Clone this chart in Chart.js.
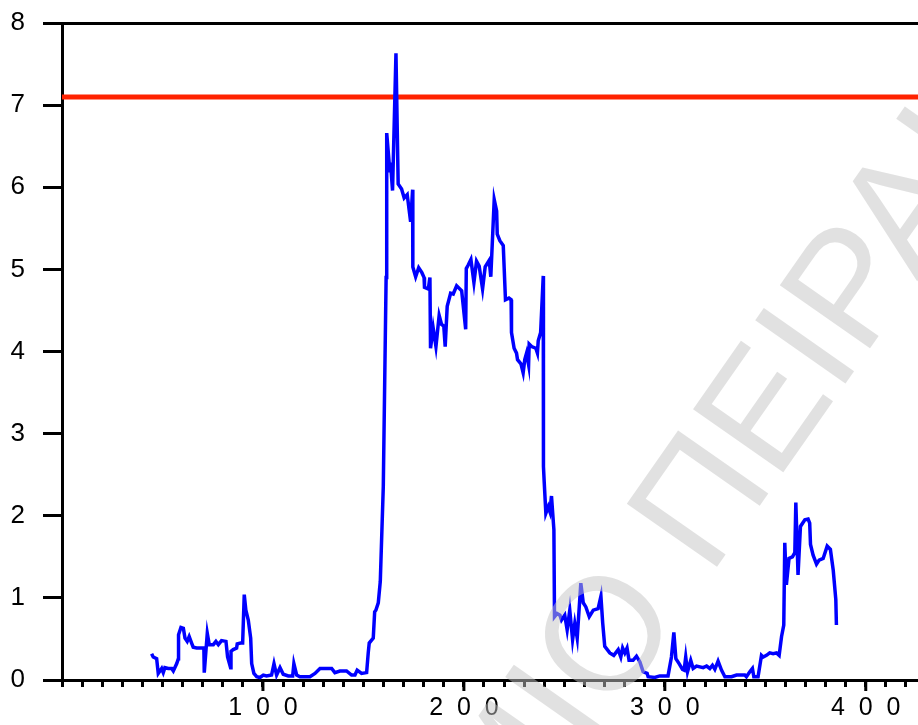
<!DOCTYPE html>
<html>
<head>
<meta charset="utf-8">
<script src="https://cdn.jsdelivr.net/npm/chart.js@4"></script>
<style>
  html, body { margin: 0; padding: 0; background: #fff; }
  canvas { display: block; }
</style>
</head>
<body>
<canvas id="chart" width="918" height="725"></canvas>
<script>
const xValues = [
  44.6, 45.4, 47.1, 47.9, 49.6, 50.4, 51.2, 52.9, 54.6, 55.4, 57.1, 57.9, 58.0, 59.2, 60.4, 61.2, 62.3, 63.3, 64.5, 65.3,
  67.0, 70.6, 70.8, 72.3, 73.3, 75.3, 76.6, 77.8, 79.4, 81.6, 82.4, 83.9, 84.1, 85.2, 86.9, 87.2, 88.9, 89.9, 90.7, 91.5,
  92.7, 93.9, 94.4, 95.5, 96.9, 98.5, 100.2, 101.8, 104.3, 105.5, 106.8, 108.5, 110.1, 112.6, 114.8, 115.4, 116.8, 118.4, 123.4, 125.9,
  128.4, 134.2, 135.8, 138.3, 141.6, 144.1, 145.8, 146.9, 149.1, 151.6, 152.4, 152.9, 154.9, 155.6, 156.2, 157.4, 158.4, 159.9, 161.3, 161.6,
  163.2, 163.5, 164.5, 166.2, 167.3, 169.0, 170.3, 171.8, 173.5, 174.5, 174.6, 176.0, 177.5, 179.1, 180.2, 180.4, 182.3, 183.1, 183.4, 184.7,
  186.1, 187.7, 188.9, 190.0, 190.7, 191.7, 193.4, 194.7, 196.4, 198.9, 200.9, 201.2, 202.1, 203.5, 205.0, 206.3, 207.6, 209.3, 210.6, 212.6,
  213.4, 215.1, 216.3, 216.6, 217.9, 219.6, 220.7, 222.4, 223.5, 223.7, 225.0, 226.2, 226.7, 228.4, 229.5, 230.3, 231.2, 232.2, 232.5, 233.7,
  235.8, 236.6, 237.0, 238.2, 239.5, 239.6, 240.0, 240.8, 242.0, 242.8, 243.6, 244.8, 245.1, 246.4, 247.8, 248.6, 250.2, 251.4, 252.7, 254.1,
  255.2, 256.4, 258.2, 259.4, 260.7, 262.4, 264.4, 266.8, 268.2, 269.1, 270.1, 272.6, 274.6, 276.8, 278.1, 279.0, 280.1, 281.2, 282.2, 284.2,
  285.9, 287.6, 288.4, 289.2, 291.2, 291.7, 295.0, 297.5, 301.6, 303.3, 304.5, 305.5, 307.1, 308.8, 309.6, 310.4, 311.3, 312.9, 314.1, 315.8,
  319.1, 320.8, 322.4, 323.7, 324.9, 326.5, 328.2, 329.9, 333.2, 335.7, 339.8, 340.6, 342.3, 343.6, 344.3, 346.4, 348.1, 348.9, 350.6, 352.2,
  353.9, 355.6, 356.9, 358.1, 359.2, 359.7, 360.5, 361.8, 363.5, 364.7, 365.2, 366.3, 367.5, 369.7, 371.3, 372.1, 372.5, 373.8, 375.5, 376.8,
  378.8, 380.8, 382.4, 383.8, 385.1, 385.4
];
const yValues = [
  0.32, 0.28, 0.26, 0.08, 0.14, 0.09, 0.15, 0.14, 0.14, 0.11, 0.20, 0.26, 0.55, 0.64, 0.63, 0.51, 0.47, 0.53, 0.45, 0.40,
  0.39, 0.39, 0.09, 0.57, 0.43, 0.43, 0.47, 0.43, 0.48, 0.47, 0.28, 0.15, 0.35, 0.37, 0.39, 0.44, 0.45, 0.45, 1.04, 0.85,
  0.73, 0.51, 0.20, 0.08, 0.04, 0.03, 0.06, 0.05, 0.06, 0.20, 0.06, 0.15, 0.07, 0.05, 0.05, 0.20, 0.06, 0.04, 0.04, 0.08,
  0.14, 0.14, 0.09, 0.11, 0.11, 0.06, 0.06, 0.12, 0.08, 0.09, 0.33, 0.45, 0.51, 0.83, 0.85, 0.94, 1.20, 2.36, 4.90, 6.66,
  6.18, 6.30, 5.96, 7.63, 6.04, 5.98, 5.87, 5.91, 5.58, 5.97, 5.03, 4.91, 5.02, 4.96, 4.90, 4.78, 4.76, 4.90, 4.04, 4.29,
  4.06, 4.44, 4.33, 4.31, 4.06, 4.55, 4.71, 4.70, 4.80, 4.74, 4.27, 5.01, 5.05, 5.12, 4.84, 5.10, 5.04, 4.76, 5.03, 5.11,
  4.91, 5.85, 5.71, 5.43, 5.35, 5.29, 4.63, 4.65, 4.63, 4.23, 4.04, 3.98, 3.90, 3.85, 3.74, 3.90, 3.98, 3.84, 4.09, 4.06,
  4.04, 3.98, 4.13, 4.23, 4.92, 2.60, 2.40, 2.03, 2.11, 2.05, 2.24, 1.83, 0.77, 0.81, 0.79, 0.73, 0.79, 0.61, 0.85, 0.49,
  0.69, 0.51, 1.18, 0.94, 0.89, 0.77, 0.85, 0.87, 1.02, 0.69, 0.41, 0.33, 0.30, 0.37, 0.28, 0.39, 0.33, 0.39, 0.24, 0.24,
  0.29, 0.22, 0.16, 0.10, 0.08, 0.04, 0.03, 0.05, 0.05, 0.28, 0.58, 0.26, 0.20, 0.13, 0.12, 0.28, 0.10, 0.24, 0.14, 0.17,
  0.15, 0.17, 0.14, 0.18, 0.13, 0.23, 0.12, 0.04, 0.04, 0.06, 0.06, 0.04, 0.10, 0.14, 0.04, 0.04, 0.30, 0.28, 0.30, 0.33,
  0.32, 0.33, 0.30, 0.53, 0.67, 1.67, 1.16, 1.48, 1.50, 1.55, 2.16, 1.28, 1.87, 1.95, 1.96, 1.91, 1.65, 1.52, 1.41, 1.46,
  1.48, 1.63, 1.59, 1.34, 0.98, 0.67
];
const thresholdValue = 7.1;
const xRange = [0, 426];
const yRange = [0, 8];
const xTickLabels = [100, 200, 300, 400];
const watermarkBefore = 'ΠΑΝΕΠΙΣΤΗΜΙΟ';
const watermarkAfter = ' ΠΕΙΡΑΙΩΣ';

const FONT = '"Liberation Sans", Arial, sans-serif';

const seriesPoints = xValues.map((x, i) => ({ x: x, y: yValues[i] }));
const thresholdPoints = xRange.map(x => ({ x: x, y: thresholdValue }));

// Longer marks for the labelled x ticks, drawn through the x scale
const majorTicks = {
  id: 'majorTicks',
  afterDraw(chart) {
    const ctx = chart.ctx;
    const xs = chart.scales.x;
    ctx.save();
    ctx.strokeStyle = '#000';
    ctx.lineWidth = 3;
    xTickLabels.forEach(v => {
      const px = xs.getPixelForValue(v);
      ctx.beginPath();
      ctx.moveTo(px, xs.top);
      ctx.lineTo(px, xs.top + 11);
      ctx.stroke();
    });
    ctx.restore();
  }
};

// Faint diagonal watermark on top of everything
const watermark = {
  id: 'watermark',
  afterDraw(chart) {
    const ctx = chart.ctx;
    ctx.save();
    ctx.translate(684, 614);
    ctx.rotate(-55 * Math.PI / 180);
    ctx.font = '160px ' + FONT;
    ctx.fillStyle = 'rgba(196, 196, 196, 0.5)';
    ctx.textBaseline = 'alphabetic';
    ctx.textAlign = 'right';
    ctx.fillText(watermarkBefore, 0, 0);
    ctx.textAlign = 'left';
    ctx.fillText(watermarkAfter, 0, 0);
    ctx.restore();
  }
};

new Chart(document.getElementById('chart'), {
  type: 'line',
  data: {
    datasets: [
      {
        data: seriesPoints,
        borderColor: '#0000ff',
        borderWidth: 3.5,
        pointRadius: 0,
        tension: 0,
        fill: false
      },
      {
        data: thresholdPoints,
        borderColor: '#ff2200',
        borderWidth: 5,
        pointRadius: 0,
        fill: false
      }
    ]
  },
  options: {
    responsive: false,
    animation: false,
    devicePixelRatio: 1,
    layout: { autoPadding: false, padding: { left: 0, top: 23, right: 0, bottom: -4 } },
    plugins: {
      legend: { display: false },
      tooltip: { enabled: false }
    },
    scales: {
      x: {
        type: 'linear',
        min: xRange[0],
        max: xRange[1],
        border: { color: '#000', width: 3 },
        grid: {
          drawOnChartArea: false,
          tickLength: 7,
          tickColor: '#000',
          tickWidth: 3
        },
        ticks: {
          stepSize: 10,
          autoSkip: false,
          maxRotation: 0,
          includeBounds: false,
          padding: 10,
          color: '#000',
          font: { family: FONT, size: 25, lineHeight: 0.88 },
          callback: v => xTickLabels.includes(v) ? String(v).split('').join('  ') : ''
        }
      },
      y: {
        min: yRange[0],
        max: yRange[1],
        afterFit: s => { s.width = 62; s.paddingTop = 0; s.paddingBottom = 0; },
        border: { color: '#000', width: 3 },
        grid: {
          tickLength: 19,
          tickColor: '#000',
          tickWidth: 3,
          lineWidth: 3,
          color: c => (c.tick && c.tick.value === yRange[1]) ? '#000' : 'rgba(0,0,0,0)'
        },
        ticks: {
          stepSize: 1,
          padding: 18,
          color: '#000',
          font: { family: FONT, size: 26 }
        }
      }
    }
  },
  plugins: [majorTicks, watermark]
});
</script>
</body>
</html>
